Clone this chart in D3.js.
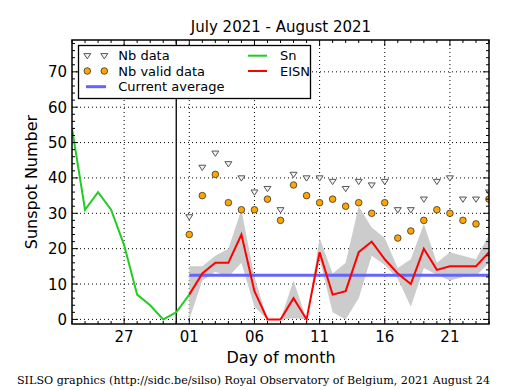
<!DOCTYPE html>
<html><head><meta charset="utf-8">
<script src="https://cdn.jsdelivr.net/npm/d3@7"></script>
<style>body{margin:0;background:#fff;} svg{display:block;}</style>
</head><body>
<svg id="chart" width="515" height="390"></svg>
<script>
// Day index: 0 = Jul 23 ... 8 = Jul 31, 9 = Aug 1 ... 32 = Aug 24
const tickIndex = [4, 9, 14, 19, 24, 29];
const tickLabels = ["27", "01", "06", "11", "16", "21"];
const yTicks = [0, 10, 20, 30, 40, 50, 60, 70];

const snDays = [0,1,2,3,4,5,6,7,8,9];
const snValues = [54,31,36,31,21,7,4,0,2,7];

const augDays = [9,10,11,12,13,14,15,16,17,18,19,20,21,22,23,24,25,26,27,28,29,30,31,32];
const eisn     = [7,13,16,16,24,8,0,0,6,0,19,7,8,19,22,17,13,10,20,14,15,15,15,19];
const nbData   = [29,43,47,44,40,36,37,31,41,40,40,39,37,39,38,39,31,31,34,39,40,34,34,36];
const nbValid  = [24,35,41,33,31,31,34,28,38,35,33,34,32,33,30,33,23,25,28,31,30,28,27,34];
const bandHigh = [15,15,18,20,31,12,0,0,11,0,23,13,16,32,26,23,14.5,17,27,16,19,18,17,24];
const bandLow  = [0,11,13.5,12,16,3.6,0,0,0.3,0,17,2,0,6,18,15.4,11.6,3.6,14.5,12.6,11,12,12.3,16];
const currentAverage = 12.5;
const monthBoundary = 8;

const svg = d3.select("#chart");
const L = 72, R = 489, T = 40, B = 324;
const x = d3.scaleLinear().domain([0, 32]).range([L, R]);
const y = d3.scaleLinear().domain([-1.3, 79]).range([B, T]);

const defs = svg.append("defs");
defs.append("clipPath").attr("id","clip").append("rect")
  .attr("x", L).attr("y", T).attr("width", R-L).attr("height", B-T);

const g = svg.append("g");
const plot = g.append("g").attr("clip-path","url(#clip)");

// grid
plot.selectAll(".gx").data(tickIndex).enter().append("line")
  .attr("x1", d=>x(d)).attr("x2", d=>x(d)).attr("y1", T).attr("y2", B)
  .attr("stroke","#000").attr("stroke-width",1).attr("stroke-dasharray","1,3");
plot.selectAll(".gy").data(yTicks).enter().append("line")
  .attr("x1", L).attr("x2", R).attr("y1", d=>y(d)).attr("y2", d=>y(d))
  .attr("stroke","#000").attr("stroke-width",1).attr("stroke-dasharray","1,3");

// band
const bandData = augDays.map((d,i)=>({d, lo: bandLow[i], hi: bandHigh[i]}));
plot.append("path").datum(bandData)
  .attr("d", d3.area().x(p=>x(p.d)).y0(p=>y(p.lo)).y1(p=>y(p.hi)))
  .attr("fill","#cccccc").attr("stroke","none");

// month boundary
plot.append("line").attr("x1", x(monthBoundary)).attr("x2", x(monthBoundary))
  .attr("y1", T).attr("y2", B).attr("stroke","#000").attr("stroke-width",1.3);

// current average
plot.append("line").attr("x1", x(augDays[0])).attr("x2", x(augDays[augDays.length-1]))
  .attr("y1", y(currentAverage)).attr("y2", y(currentAverage))
  .attr("stroke","#6464ff").attr("stroke-width",3);

// Sn
const line = d3.line().x(p=>x(p[0])).y(p=>y(p[1]));
plot.append("path").datum(snDays.map((d,i)=>[d, snValues[i]]))
  .attr("d", line).attr("fill","none").attr("stroke","#22cc22").attr("stroke-width",2);
// EISN
plot.append("path").datum(augDays.map((d,i)=>[d, eisn[i]]))
  .attr("d", line).attr("fill","none").attr("stroke","#ff0000").attr("stroke-width",2);

// triangle markers
function tri(cx, cy, s){ return `M${cx-s},${cy-s*0.6}L${cx+s},${cy-s*0.6}L${cx},${cy+s*0.9}Z`; }
plot.selectAll(".tri").data(augDays.map((d,i)=>[d, nbData[i]])).enter().append("path")
  .attr("d", p=>tri(x(p[0]), y(p[1]), 3.5))
  .attr("fill","#f4f4f4").attr("stroke","#555").attr("stroke-width",1);
// circles
plot.selectAll(".cir").data(augDays.map((d,i)=>[d, nbValid[i]])).enter().append("circle")
  .attr("cx", p=>x(p[0])).attr("cy", p=>y(p[1])).attr("r",3.3)
  .attr("fill","#ffa500").attr("stroke","#333").attr("stroke-width",0.8);

// ticks (inward, all sides)
const tk = g.append("g").attr("stroke","#000").attr("stroke-width",1);
d3.range(0, 33).forEach(d=>{
  const major = tickIndex.includes(d);
  const len = major ? 6 : 3;
  tk.append("line").attr("x1",x(d)).attr("x2",x(d)).attr("y1",B).attr("y2",B-len);
  tk.append("line").attr("x1",x(d)).attr("x2",x(d)).attr("y1",T).attr("y2",T+len);
});
d3.range(0, 80, 2).forEach(v=>{
  const major = v % 10 === 0;
  const len = major ? 6 : 3;
  tk.append("line").attr("x1",L).attr("x2",L+len).attr("y1",y(v)).attr("y2",y(v));
  tk.append("line").attr("x1",R).attr("x2",R-len).attr("y1",y(v)).attr("y2",y(v));
});

// frame
g.append("rect").attr("x",L).attr("y",T).attr("width",R-L).attr("height",B-T)
  .attr("fill","none").attr("stroke","#000").attr("stroke-width",1.5);

const font = "DejaVu Sans, sans-serif";
// tick labels
g.selectAll(".xl").data(tickIndex).enter().append("text")
  .attr("x", d=>x(d)).attr("y", B+18).attr("text-anchor","middle")
  .attr("font-family",font).attr("font-size",15).text((d,i)=>tickLabels[i]);
g.selectAll(".yl").data(yTicks).enter().append("text")
  .attr("x", L-5).attr("y", d=>y(d)+5.5).attr("text-anchor","end")
  .attr("font-family",font).attr("font-size",15).text(d=>d);

// titles
svg.append("text").attr("x",281).attr("y",32).attr("text-anchor","middle")
  .attr("font-family",font).attr("font-size",15).text("July 2021 - August 2021");
svg.append("text").attr("x",281).attr("y",363).attr("text-anchor","middle")
  .attr("font-family",font).attr("font-size",16).text("Day of month");
svg.append("text").attr("transform","translate(37,182) rotate(-90)").attr("text-anchor","middle")
  .attr("font-family",font).attr("font-size",16).text("Sunspot Number");
svg.append("text").attr("x",17).attr("y",384)
  .attr("font-family","DejaVu Serif, serif").attr("font-size",11)
  .attr("textLength",473).attr("lengthAdjust","spacingAndGlyphs")
  .text("SILSO graphics (http://sidc.be/silso) Royal Observatory of Belgium, 2021 August 24");

// legend
const lg = svg.append("g");
lg.append("rect").attr("x",78.5).attr("y",45.5).attr("width",232).attr("height",53)
  .attr("fill","#fff").attr("stroke","#000").attr("stroke-width",1.3);
const lf = 13;
[87.3, 104.3].forEach(cx=>{
  lg.append("path").attr("d", tri(cx, 55.7, 3.5)).attr("fill","#f4f4f4").attr("stroke","#555");
  lg.append("circle").attr("cx",cx).attr("cy",71).attr("r",3.3).attr("fill","#ffa500").attr("stroke","#333").attr("stroke-width",0.8);
});
lg.append("line").attr("x1",86).attr("x2",106).attr("y1",86.7).attr("y2",86.7).attr("stroke","#6464ff").attr("stroke-width",3);
lg.append("line").attr("x1",248).attr("x2",267).attr("y1",55.7).attr("y2",55.7).attr("stroke","#22cc22").attr("stroke-width",2);
lg.append("line").attr("x1",248).attr("x2",267).attr("y1",71).attr("y2",71).attr("stroke","#ff0000").attr("stroke-width",2);
[["Nb data",118.3,60.3],["Nb valid data",118.3,75.6],["Current average",118.3,91.3],["Sn",280,60.3],["EISN",280,75.6]]
  .forEach(t=>lg.append("text").attr("x",t[1]).attr("y",t[2]).attr("font-family",font).attr("font-size",lf).text(t[0]));
</script>
</body></html>
